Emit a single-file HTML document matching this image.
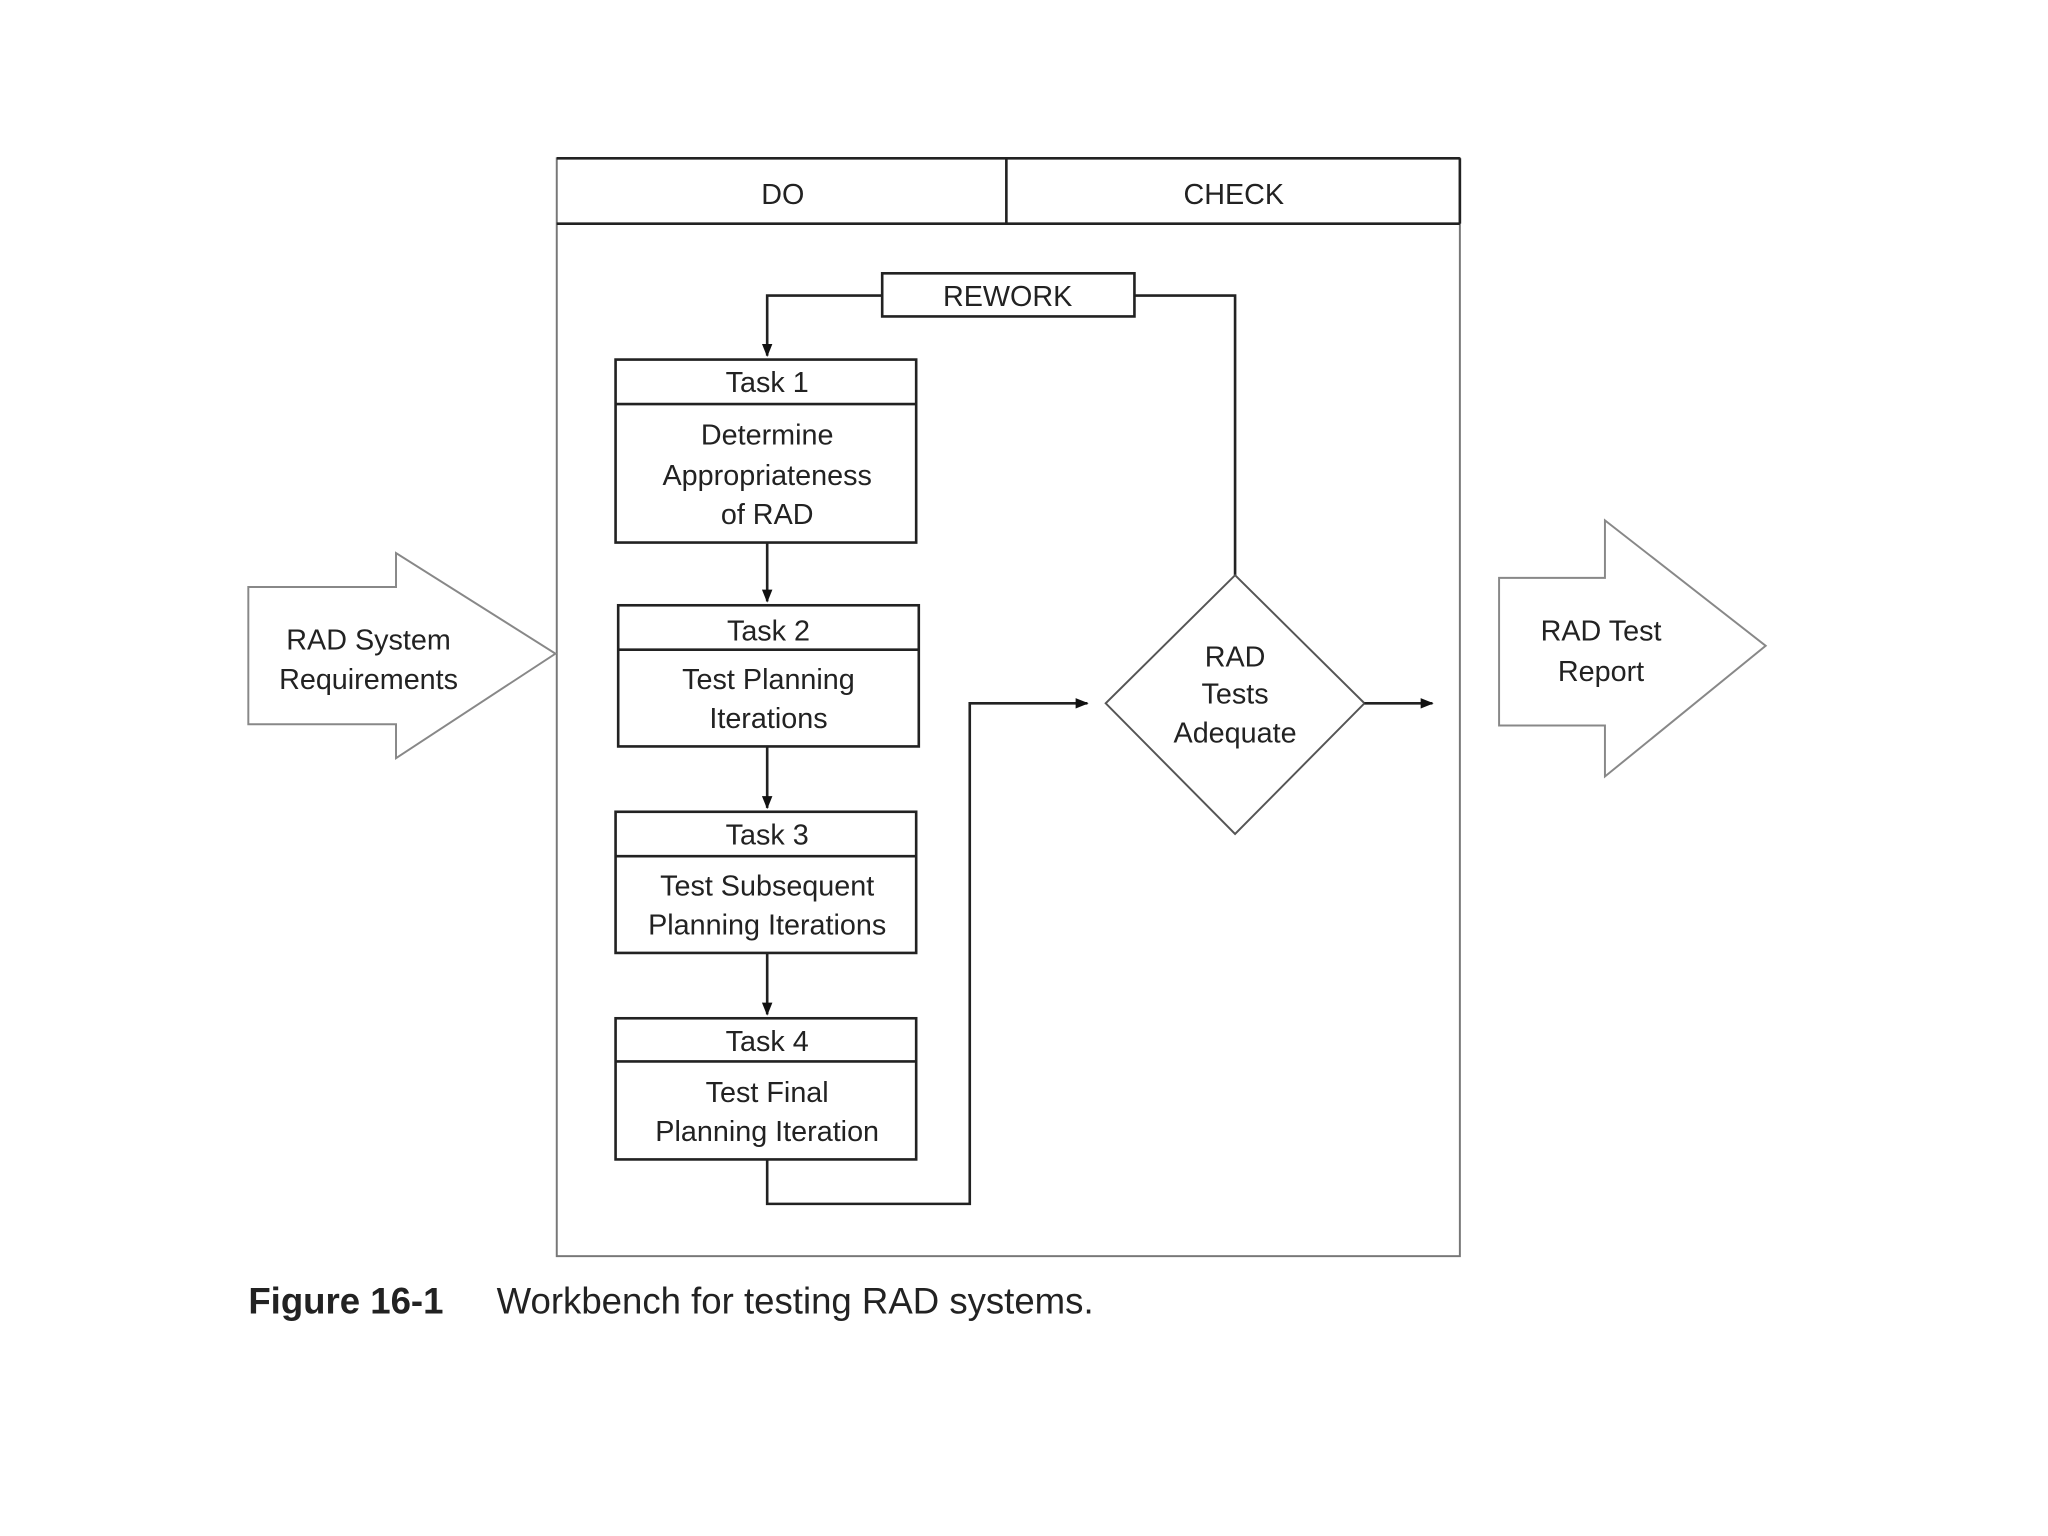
<!DOCTYPE html>
<html><head><meta charset="utf-8"><style>
html,body{margin:0;padding:0;background:#fff;}
svg{display:block;}
text{font-family:"Liberation Sans",sans-serif;fill:#222;}
</style></head><body>
<svg width="2048" height="1536" viewBox="0 0 1567 1175" xmlns="http://www.w3.org/2000/svg">
<defs><marker id="a" markerWidth="10" markerHeight="8" refX="9" refY="4" orient="auto" markerUnits="userSpaceOnUse"><path d="M0,0 L10,4 L0,8 z" fill="#111"/></marker></defs>
<rect width="1567" height="1175" fill="#fff"/>
<g fill="none" stroke="#222" stroke-width="2">
<rect x="426" y="121" width="691" height="840" stroke="#777" stroke-width="1.5"/>
<line x1="426" y1="171" x2="1117" y2="171"/>
<line x1="426" y1="121" x2="1117" y2="121"/>
<line x1="1117" y1="121" x2="1117" y2="171"/>
<line x1="770" y1="121" x2="770" y2="171"/>
<rect x="675" y="209" width="193" height="33"/>
<polyline points="675,226 587,226 587,272" marker-end="url(#a)"/>
<polyline points="868,226 945,226 945,440"/>
<rect x="471" y="275" width="230" height="140"/><line x1="471" y1="309" x2="701" y2="309"/>
<line x1="587" y1="415" x2="587" y2="460" marker-end="url(#a)"/>
<rect x="473" y="463" width="230" height="108"/><line x1="473" y1="497" x2="703" y2="497"/>
<line x1="587" y1="571" x2="587" y2="618" marker-end="url(#a)"/>
<rect x="471" y="621" width="230" height="108"/><line x1="471" y1="655" x2="701" y2="655"/>
<line x1="587" y1="729" x2="587" y2="776" marker-end="url(#a)"/>
<rect x="471" y="779" width="230" height="108"/><line x1="471" y1="812" x2="701" y2="812"/>
<polyline points="587,887 587,921 742,921 742,538 832,538" marker-end="url(#a)"/>
<polygon points="945,440 1044,538 945,638 846,538" stroke="#555" stroke-width="1.5"/>
<line x1="1044" y1="538" x2="1096" y2="538" marker-end="url(#a)"/>
<polygon points="190,449 303,449 303,423 425,500 303,580 303,554 190,554" stroke="#888" stroke-width="1.5"/>
<polygon points="1147,442 1228,442 1228,398 1351,494 1228,594 1228,555 1147,555" stroke="#888" stroke-width="1.5"/>
</g>
<g font-size="22" text-anchor="middle">
<text x="599" y="156">DO</text>
<text x="944" y="156">CHECK</text>
<text x="771" y="234">REWORK</text>
<text x="587" y="300">Task 1</text>
<text x="587" y="340">Determine</text>
<text x="587" y="371">Appropriateness</text>
<text x="587" y="401">of RAD</text>
<text x="588" y="490">Task 2</text>
<text x="588" y="527">Test Planning</text>
<text x="588" y="557">Iterations</text>
<text x="587" y="646">Task 3</text>
<text x="587" y="685">Test Subsequent</text>
<text x="587" y="715">Planning Iterations</text>
<text x="587" y="804">Task 4</text>
<text x="587" y="843">Test Final</text>
<text x="587" y="873">Planning Iteration</text>
<text x="945" y="510">RAD</text>
<text x="945" y="538">Tests</text>
<text x="945" y="568">Adequate</text>
<text x="282" y="497">RAD System</text>
<text x="282" y="527">Requirements</text>
<text x="1225" y="490">RAD Test</text>
<text x="1225" y="521">Report</text>
</g>
<text x="190" y="1005" font-size="28" font-weight="bold" fill="#111">Figure 16-1</text>
<text x="380" y="1005" font-size="28" fill="#111">Workbench for testing RAD systems.</text>
</svg>
</body></html>
